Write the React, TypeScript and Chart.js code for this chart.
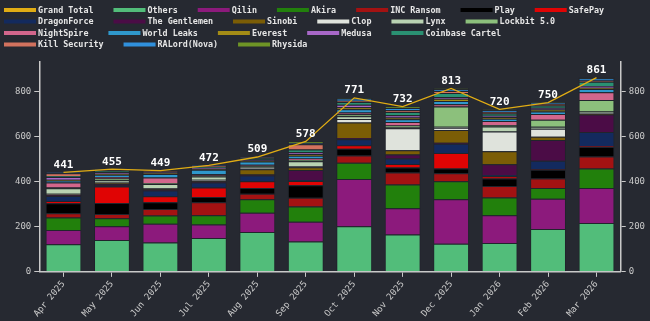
import React, { useEffect, useRef } from 'react';
import { Chart, registerables } from 'chart.js';

Chart.register(...registerables);

const months = ['Apr 2025', 'May 2025', 'Jun 2025', 'Jul 2025', 'Aug 2025', 'Sep 2025', 'Oct 2025', 'Nov 2025', 'Dec 2025', 'Jan 2026', 'Feb 2026', 'Mar 2026'];
const yTicks = [0, 200, 400, 600, 800];

const grandTotal = [441, 455, 449, 472, 509, 578, 771, 732, 813, 720, 750, 861];
const others = [122, 141, 130, 150, 177, 135, 202, 166, 124, 128, 190, 217];
const qilin = [64, 61, 83, 60, 85, 87, 209, 116, 198, 123, 134, 155];
const akira = [55, 36, 37, 41, 60, 68, 72, 105, 80, 79, 48, 86];
const incRansom = [19, 18, 28, 57, 24, 38, 33, 53, 35, 50, 42, 53];
const play = [44, 49, 31, 24, 26, 56, 30, 22, 21, 34, 38, 42];
const safePay = [10, 73, 26, 42, 30, 19, 15, 16, 69, 10, 3, 4];
const dragonForce = [22, 5, 26, 22, 25, 4, 27, 24, 41, 5, 37, 63];
const theGentlemen = [4, 6, 4, 4, 4, 44, 5, 18, 4, 48, 92, 77];
const sinobi = [3, 4, 3, 4, 24, 13, 69, 19, 57, 57, 15, 4];
const clop = [3, 3, 3, 4, 6, 4, 15, 97, 10, 88, 35, 4];
const lynx = [24, 10, 18, 15, 6, 22, 13, 5, 4, 22, 9, 6];
const lockbit5 = [4, 8, 4, 4, 4, 6, 8, 8, 90, 6, 31, 51];
const nightSpire = [22, 6, 25, 5, 4, 6, 8, 15, 10, 18, 25, 34];
const worldLeaks = [8, 10, 16, 20, 14, 12, 15, 12, 14, 10, 12, 14];
const everest = [4, 5, 3, 4, 5, 8, 8, 8, 10, 8, 8, 6];
const medusa = [12, 6, 4, 4, 4, 8, 12, 10, 8, 6, 8, 8];
const coinbaseCartel = [5, 8, 4, 5, 6, 12, 12, 14, 18, 10, 10, 18];
const killSecurity = [12, 3, 3, 4, 3, 24, 5, 8, 8, 6, 7, 6];
const raLord = [4, 3, 1, 3, 2, 4, 10, 10, 8, 8, 4, 10];
const rhysida = [0, 0, 0, 0, 0, 8, 3, 6, 4, 4, 2, 3];

const barSeries: [string, number[], string][] = [
  ['Others', others, '#52bd7a'],
  ['Qilin', qilin, '#8c1a7c'],
  ['Akira', akira, '#22800c'],
  ['INC Ransom', incRansom, '#a31212'],
  ['Play', play, '#000000'],
  ['SafePay', safePay, '#e00404'],
  ['DragonForce', dragonForce, '#132a5e'],
  ['The Gentlemen', theGentlemen, '#4b0c46'],
  ['Sinobi', sinobi, '#7b5d06'],
  ['Clop', clop, '#dfe3dc'],
  ['Lynx', lynx, '#b9d2b2'],
  ['Lockbit 5.0', lockbit5, '#8cc07c'],
  ['NightSpire', nightSpire, '#d2668c'],
  ['World Leaks', worldLeaks, '#2f98cc'],
  ['Everest', everest, '#a48c16'],
  ['Medusa', medusa, '#a868c8'],
  ['Coinbase Cartel', coinbaseCartel, '#2a9072'],
  ['Kill Security', killSecurity, '#d2725e'],
  ['RALord(Nova)', raLord, '#3090dc'],
  ['Rhysida', rhysida, '#6e9426'],
];

const totalColor = '#e0ac14';
const bg = '#262931';
const axisColor = '#c9c9c9';
const mono = '"DejaVu Sans Mono", monospace';

const legendPlugin = {
  id: 'customLegend',
  afterDraw(chart: any) {
    const ctx = chart.ctx;
    ctx.save();
    ctx.font = `bold 8.4px ${mono}`;
    ctx.textBaseline = 'middle';
    ctx.textAlign = 'left';
    let x = 4;
    let y = 10;
    chart.data.datasets.forEach((ds: any) => {
      const w = 34 + ctx.measureText(ds.label).width;
      if (x > 4 && x + w > 615) {
        x = 4;
        y += 11.5;
      }
      ctx.fillStyle = ds.type === 'line' ? ds.borderColor : ds.backgroundColor;
      ctx.fillRect(x, y - 2, 32, 4);
      ctx.fillStyle = '#e6e6e6';
      ctx.fillText(ds.label, x + 34, y + 0.5);
      x += w + 20;
    });
    ctx.restore();
  },
};

const labelPlugin = {
  id: 'totalLabels',
  afterDatasetsDraw(chart: any) {
    const ctx = chart.ctx;
    const meta = chart.getDatasetMeta(0);
    ctx.save();
    ctx.font = `bold 11px ${mono}`;
    ctx.fillStyle = '#ffffff';
    ctx.textAlign = 'center';
    ctx.textBaseline = 'alphabetic';
    meta.data.forEach((pt: any, i: number) => {
      ctx.fillText(String(grandTotal[i]), pt.x, pt.y - 4.5);
    });
    ctx.restore();
  },
};

const bgPlugin = {
  id: 'bgFill',
  beforeDraw(chart: any) {
    const ctx = chart.ctx;
    ctx.save();
    ctx.fillStyle = bg;
    ctx.fillRect(0, 0, chart.width, chart.height);
    ctx.restore();
  },
};

export default function App() {
  const ref = useRef<HTMLCanvasElement>(null);
  useEffect(() => {
    document.body.style.margin = '0';
    document.body.style.background = bg;
    if (!ref.current) return;
    const tickFont = { family: mono, size: 9 };
    const filterTicks = (scale: any) => {
      scale.ticks = yTicks.map((v) => ({ value: v }));
    };
    const chart = new Chart(ref.current, {
      type: 'bar',
      data: {
        labels: months,
        datasets: [
          {
            type: 'line' as const,
            label: 'Grand Total',
            data: grandTotal,
            borderColor: totalColor,
            backgroundColor: totalColor,
            borderWidth: 1.3,
            pointRadius: 0,
            tension: 0,
            yAxisID: 'y1',
            order: 0,
          } as any,
          ...barSeries.map(([label, data, color]) => ({
            type: 'bar' as const,
            label,
            data,
            backgroundColor: color,
            borderColor: 'rgba(30,32,40,0.55)',
            borderWidth: 1,
            yAxisID: 'y',
            order: 1,
            categoryPercentage: 1,
            barPercentage: 0.74,
          })),
        ],
      },
      options: {
        responsive: false,
        animation: false,
        layout: { padding: { top: 62, left: 12, right: 2, bottom: 0 } },
        plugins: {
          legend: { display: false },
          tooltip: { enabled: false },
        },
        scales: {
          x: {
            stacked: true,
            grid: { offset: false, drawOnChartArea: false, drawTicks: true, tickLength: 5, color: axisColor },
            border: { display: true, color: axisColor, width: 1.5 },
            ticks: { color: axisColor, font: tickFont, minRotation: 50, maxRotation: 50, padding: 2 },
          },
          y: {
            stacked: true,
            position: 'left',
            min: 0,
            max: 930,
            afterBuildTicks: filterTicks,
            grid: { drawOnChartArea: false, drawTicks: true, tickLength: 5, color: axisColor },
            border: { display: true, color: axisColor, width: 1.5 },
            ticks: { color: axisColor, font: tickFont, padding: 3 },
          },
          y1: {
            position: 'right',
            min: 0,
            max: 930,
            afterBuildTicks: filterTicks,
            grid: { drawOnChartArea: false, drawTicks: true, tickLength: 5, color: axisColor },
            border: { display: true, color: axisColor, width: 1.5 },
            ticks: { color: axisColor, font: tickFont, padding: 3 },
          },
        },
      } as any,
      plugins: [bgPlugin, legendPlugin, labelPlugin],
    });
    return () => chart.destroy();
  }, []);
  return <canvas ref={ref} width={650} height={321} style={{ display: 'block' }} />;
}
